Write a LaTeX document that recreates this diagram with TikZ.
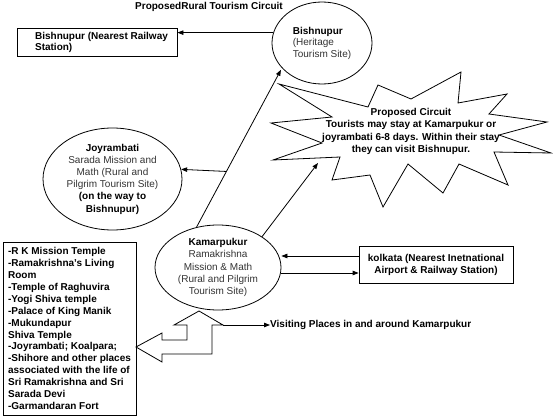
\documentclass[tikz,border=0pt]{standalone}
\usepackage{fontspec}
\setmainfont{Liberation Sans}
\usetikzlibrary{arrows.meta,shapes.geometric}
\newcommand{\rgtxt}[1]{{\color{black!80}#1}}
\begin{document}
\begin{tikzpicture}[x=1pt,y=-1pt,
  every node/.style={inner sep=0pt, font=\fontsize{10}{12}\selectfont},
  line/.style={line width=0.8pt, draw=black},
  arr/.style={line, -{Triangle[length=6pt,width=4.5pt]}},
  oval/.style={draw, ellipse, line width=0.8pt, inner sep=0pt},
  box/.style={draw, rectangle, line width=0.8pt},
  bf/.style={font=\bfseries\fontsize{10}{#1}\selectfont},
  bf/.default=12
]
\useasboundingbox (0,0) rectangle (553,417);

% title
\node[bf] (title) at (209,7) {ProposedRural Tourism Circuit};

% Bishnupur railway station box
\node[box, bf=11, minimum width=160pt, minimum height=28pt, align=left] (rail) at (97,42)
  {\hspace*{9pt}Bishnupur (Nearest Railway\\\hspace*{9pt}Station)};

% Bishnupur heritage site
\node[oval, minimum width=100pt, minimum height=82pt, align=left,
      font=\fontsize{10}{11.5}\selectfont] (bish) at (322,43)
  {\textbf{Bishnupur}\\\rgtxt{(Heritage}\\\rgtxt{Tourism Site)}};

% Joyrambati
\node[oval, minimum width=139pt, minimum height=102pt, align=center,
      font=\fontsize{10}{12.2}\selectfont] (joy) at (112.5,179)
  {\textbf{Joyrambati}\\\rgtxt{Sarada Mission and}\\\rgtxt{Math (Rural and}\\\rgtxt{Pilgrim Tourism Site)}\\\textbf{(on the way to}\\\textbf{Bishnupur)}};

% Kamarpukur
\node[oval, minimum width=126pt, minimum height=85pt, align=center,
      font=\fontsize{10}{12.2}\selectfont] (kam) at (218,267.5)
  {\textbf{Kamarpukur}\\\rgtxt{Ramakrishna}\\\rgtxt{Mission \& Math}\\\rgtxt{(Rural and Pilgrim}\\\rgtxt{Tourism Site)}};

% Kolkata box
\node[box, bf=12, minimum width=154pt, minimum height=37pt, align=center] (kol) at (436,264.5)
  {kolkata (Nearest Inetnational\\Airport \& Railway Station)};

% list of places
\node[box, bf=11.9, minimum width=133pt, minimum height=173pt, align=left] (list) at (69.5,328.5)
  {-R K Mission Temple\\-Ramakrishna's Living\\Room\\-Temple of Raghuvira\\-Yogi Shiva temple\\-Palace of King Manik\\-Mukundapur\\Shiva Temple\\-Joyrambati; Koalpara;\\-Shihore and other places\\associated with the life of\\Sri Ramakrishna and Sri\\Sarada Devi\\-Garmandaran Fort};

% proposed circuit star
\draw[line, line join=miter]
  (279,84) -- (368,107) -- (378,85) -- (411,99) -- (461,72) -- (458,103)
  -- (507,94) -- (489,114) -- (547,122) -- (499,135) -- (551,153) -- (494,152)
  -- (508,185) -- (459,164) -- (443,193) -- (408,164) -- (383,207) -- (370,175)
  -- (332,180) -- (340,157) -- (273,160) -- (322,143) -- (271,123) -- (332,117) -- cycle;
\node[bf=12.3, align=center] (circ) at (411,131.5)
  {Proposed Circuit\\Tourists may stay at Kamarpukur or\\joyrambati 6-8 days. Within their stay\\they can visit Bishnupur.};
\coordinate (starin) at (318,163);

% block arrow (up and left)
\coordinate (barb) at (223,325);
\draw[line, line join=miter]
  (199,311) -- (barb) -- (212,325) -- (212,354) -- (162,354) -- (162,362)
  -- (136,347) -- (162,333) -- (162,340) -- (187,340) -- (187,325) -- (174,325) -- cycle;

% visiting places
\node[bf, anchor=west] (visit) at (270,325) {Visiting Places in and around Kamarpukur};

% connectors
\draw[arr] (bish.168) -- (bish.168 -| rail.east);
\draw[arr, shorten >=2pt] (kam.118) -- coordinate[pos=0.35] (jp) (bish.212);
\draw[arr] (jp) -- (joy.8);
\draw[arr] (kam.35) -- (starin);
\draw[arr] ([yshift=8.5pt]kol.west) -- ([yshift=8.5pt]kol.west -| kam.east);
\draw[arr] ([yshift=-8.5pt]kol.west -| kam.east) -- ([yshift=-8.5pt]kol.west);
\draw[arr] (barb) -- (visit.west);
\end{tikzpicture}
\end{document}
